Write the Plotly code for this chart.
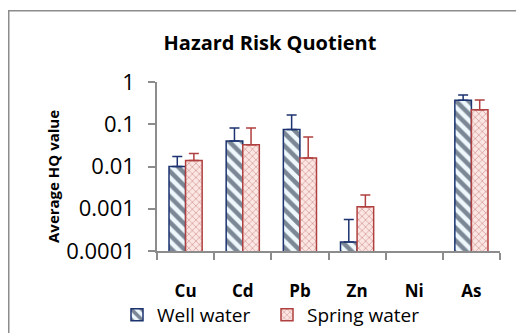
import plotly.graph_objects as go

categories = ["Cu", "Cd", "Pb", "Zn", "Ni", "As"]
well_values = [0.0100, 0.040, 0.075, 0.000163, None, 0.37]
well_err = [0.0072, 0.042, 0.091, 0.00039, None, 0.124]
spring_values = [0.0138, 0.0326, 0.0158, 0.00111, None, 0.22]
spring_err = [0.0064, 0.049, 0.034, 0.0010, None, 0.157]
y_tickvals = [1, 0.1, 0.01, 0.001, 0.0001]
y_ticktext = ["1", "0.1", "0.01", "0.001", "0.0001"]

NAVY = "#1c3370"
RED = "#b0403f"
FONT = "Open Sans"

# page body has an 8px margin; figure sized so that it fills the 524x333 window
OFF = 8
W, H = 524 - OFF, 333 - OFF
L, R, T, B = 157 - OFF, 500 - OFF, 82 - OFF, 251 - OFF
PW, PH = R - L, B - T


def px_x(x):
    return (x - OFF - L) / PW


def px_y(y):
    return (B - (y - OFF)) / PH


fig = go.Figure()
fig.add_trace(go.Bar(
    x=categories, y=well_values, name="Well water", legend="legend",
    marker=dict(color="#eef8fc", line=dict(color=NAVY, width=1.5),
                pattern=dict(shape="\\", fgcolor="#0a1530", bgcolor="#eef8fc", size=9, solidity=0.5)),
    error_y=dict(type="data", array=well_err, arrayminus=[0]*6, symmetric=False,
                 color=NAVY, thickness=1.5, width=5),
))
fig.add_trace(go.Bar(
    x=categories, y=spring_values, name="Spring water", legend="legend2",
    marker=dict(color="#fbe6e3", line=dict(color=RED, width=1.5),
                pattern=dict(shape="x", fgcolor="#b8625e", bgcolor="#fbe6e3", size=5, solidity=0.3)),
    error_y=dict(type="data", array=spring_err, arrayminus=[0]*6, symmetric=False,
                 color=RED, thickness=1.5, width=5),
))

legend_common = dict(orientation="h", xanchor="left", yanchor="middle", y=px_y(315),
                     font=dict(size=19, family=FONT), bgcolor="rgba(0,0,0,0)", itemwidth=30)

fig.update_layout(
    width=W, height=H,
    margin=dict(l=L, r=W - R, t=T, b=H - B, autoexpand=False),
    paper_bgcolor="white", plot_bgcolor="white",
    barmode="group", bargap=0.42, bargroupgap=0,
    font=dict(family=FONT, color="black"),
    title=dict(text="<b>Hazard Risk Quotient</b>", x=(270 - OFF)/W, xanchor="center",
               xref="container", yref="container", y=1 - (43 - OFF)/H, yanchor="middle",
               font=dict(size=20, family=FONT)),
    showlegend=True,
    legend=dict(x=px_x(117), **legend_common),
    legend2=dict(x=px_x(267), **legend_common),
    annotations=[dict(text="<b>Average HQ value</b>", textangle=-90, showarrow=False,
                      xref="paper", yref="paper", x=px_x(53), y=px_y(177),
                      xanchor="center", yanchor="middle", font=dict(size=15, family=FONT))],
    shapes=[dict(type="rect", xref="paper", yref="paper",
                 x0=(0.75 - L)/PW, x1=(560 - L)/PW,
                 y0=(B - 360)/PH, y1=1 + (T - 2 - 0.75)/PH,
                 line=dict(color="#8c8c8c", width=1.5), layer="below")],
)
fig.update_xaxes(
    type="category", showline=True, linecolor="#8c8c8c", linewidth=1.5,
    ticks="outside", tickson="boundaries", ticklen=7, tickcolor="#8c8c8c", tickwidth=1.5,
    tickfont=dict(size=17, family=FONT, weight="bold"), ticklabelstandoff=24, showgrid=False,
    automargin=False,
)
fig.update_yaxes(
    type="log", range=[-4, 0], tickvals=y_tickvals, ticktext=y_ticktext,
    showline=True, linecolor="#8c8c8c", linewidth=1.5, ticks="outside", ticklen=7,
    tickcolor="#8c8c8c", tickwidth=1.5, showgrid=False, zeroline=False,
    tickfont=dict(size=22, family=FONT), ticklabelstandoff=9,
    automargin=False,
)

fig.write_html("out.html")
